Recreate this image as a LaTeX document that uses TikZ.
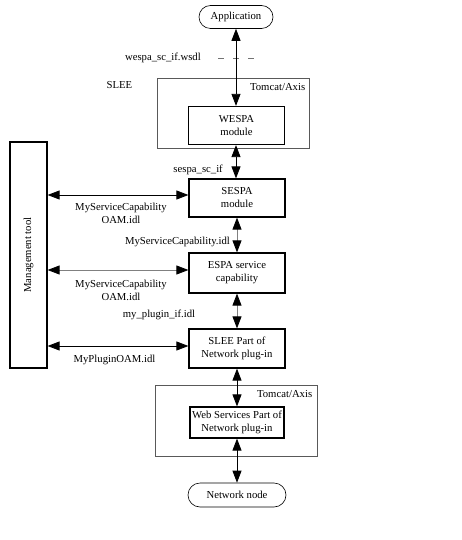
\documentclass[tikz,border=0pt]{standalone}
\usepackage{fontspec}
\setmainfont{Liberation Serif}
\usetikzlibrary{arrows.meta,positioning}

\begin{document}
\begin{tikzpicture}[x=1pt,y=-1pt,
    module/.style={draw, line width=1.2pt, minimum width=96pt, minimum height=38pt, align=center, inner sep=2pt},
    endpoint/.style={draw, line width=0.6pt, rounded corners=11.5pt, minimum width=74pt, minimum height=23pt},
    container/.style={draw=black!65, line width=0.8pt, minimum width=152pt, minimum height=70pt},
    link/.style={{Triangle[length=12pt,width=9pt,color=black]}-{Triangle[length=12pt,width=9pt,color=black]}, line width=0.8pt},
    greylink/.style={link, draw=black!50},
    lbl/.style={inner sep=1pt, align=center},
    font={\fontsize{10.7}{13}\selectfont}]
    \useasboundingbox (0,0) rectangle (462,540);

    \node[container] (tomcatA) at (233,113) {};
    \node[container, minimum width=162pt, minimum height=71pt] (tomcatB) at (236,420.5) {};
    \node[lbl, anchor=north east] at ([xshift=-3pt,yshift=-5pt]tomcatA.north east) (axisA) {Tomcat/Axis};
    \node[lbl, anchor=north east] at ([xshift=-4pt,yshift=-5pt]tomcatB.north east) (axisB) {Tomcat/Axis};
    \node[lbl] (slee) at (119.5,85) {SLEE};

    \node[endpoint] (app) at (236,17) {Application};
    \node[module] (wespa) at (236.5,125.5) {WESPA\\module};
    \node[module] (sespa) at (237,198) {SESPA\\module};
    \node[module, minimum height=40pt] (espa) at (237,273) {ESPA service\\capability};
    \node[module, minimum height=39pt] (sleeplug) at (237,348.5) {SLEE Part of\\Network plug-in};
    \node[module, minimum width=94pt, minimum height=31pt] (wsplug) at (237,422.5) {Web Services Part of\\Network plug-in};
    \node[endpoint, minimum width=98pt, minimum height=24pt, rounded corners=12pt] (net) at (237,495) {Network node};
    \node[module, rotate=90, minimum width=226pt, minimum height=37pt] (mgmt) at (28.5,255) {Management tool};

    \node[lbl, anchor=east] (wsdl) at (202,58) {wespa\_sc\_if.wsdl};
    \draw[black!55, line width=0.8pt, dash pattern=on 6pt off 9pt] ([xshift=16pt]wsdl.east) -- ++(40pt,0);
    \node[lbl, anchor=east] (sescif) at (224,170) {sespa\_sc\_if};
    \node[lbl] (scidl) at (177.5,242) {MyServiceCapability.idl};
    \node[lbl] (plugidl) at (159,315) {my\_plugin\_if.idl};
    \node[lbl] (oamA) at (121,213.5) {MyServiceCapability\\OAM.idl};
    \node[lbl] (oamB) at (121,290.5) {MyServiceCapability\\OAM.idl};
    \node[lbl] (plugoam) at (114.5,360) {MyPluginOAM.idl};

    \draw[link] (app) -- (wespa.north -| app);
    \draw[link] (wespa.south -| app) -- (sespa.north -| app);
    \draw[greylink] (sespa) -- (espa);
    \draw[greylink] (espa) -- (sleeplug);
    \draw[link] (sleeplug) -- (wsplug);
    \draw[link] (wsplug) -- (net);

    \draw[link] ([yshift=3pt]sespa.west -| mgmt.south) -- ([yshift=3pt]sespa.west);
    \draw[greylink] ([yshift=3pt]espa.west -| mgmt.south) -- ([yshift=3pt]espa.west);
    \draw[link] ([yshift=2.5pt]sleeplug.west -| mgmt.south) -- ([yshift=2.5pt]sleeplug.west);
  \end{tikzpicture}
\end{document}
